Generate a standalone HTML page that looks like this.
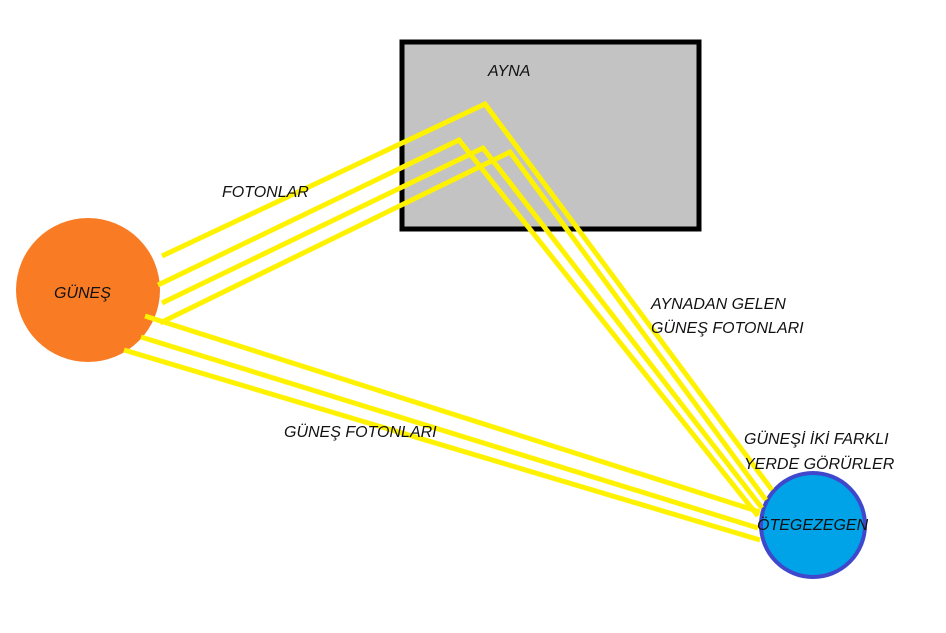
<!DOCTYPE html>
<html><head><style>body{margin:0;background:#fff}svg{display:block}</style></head><body>
<svg width="946" height="633" viewBox="0 0 946 633" xmlns="http://www.w3.org/2000/svg" font-family="'Liberation Sans', sans-serif" font-style="italic">
<rect x="402" y="42" width="297" height="187" fill="#c3c3c3" stroke="#000" stroke-width="5"/>
<circle cx="88" cy="290" r="72" fill="#f97c24"/>
<circle cx="813" cy="525" r="52" fill="#00a2e8" stroke="#3f48cc" stroke-width="4"/>
<g stroke="#fff200" stroke-width="5" fill="none" stroke-linecap="butt">
<polyline points="162,256 485,104 772,490"/>
<polyline points="158,285 459,140 758,516"/>
<polyline points="162,303 483,148 762,508"/>
<polyline points="160,323 510,152 766,500"/>
<line x1="145" y1="316" x2="760" y2="512"/>
<line x1="141" y1="337" x2="758" y2="528"/>
<line x1="124" y1="350" x2="760" y2="540"/>
</g>
<g font-size="16" fill="#111">
<text x="488" y="76">AYNA</text>
<text x="222" y="197">FOTONLAR</text>
<text x="54" y="298">GÜNEŞ</text>
<text x="651" y="309">AYNADAN GELEN</text>
<text x="651" y="333">GÜNEŞ FOTONLARI</text>
<text x="284" y="437">GÜNEŞ FOTONLARI</text>
<text x="744" y="444">GÜNEŞİ İKİ FARKLI</text>
<text x="744" y="469">YERDE GÖRÜRLER</text>
<text x="757" y="530">ÖTEGEZEGEN</text>
</g>
</svg>
</body></html>
